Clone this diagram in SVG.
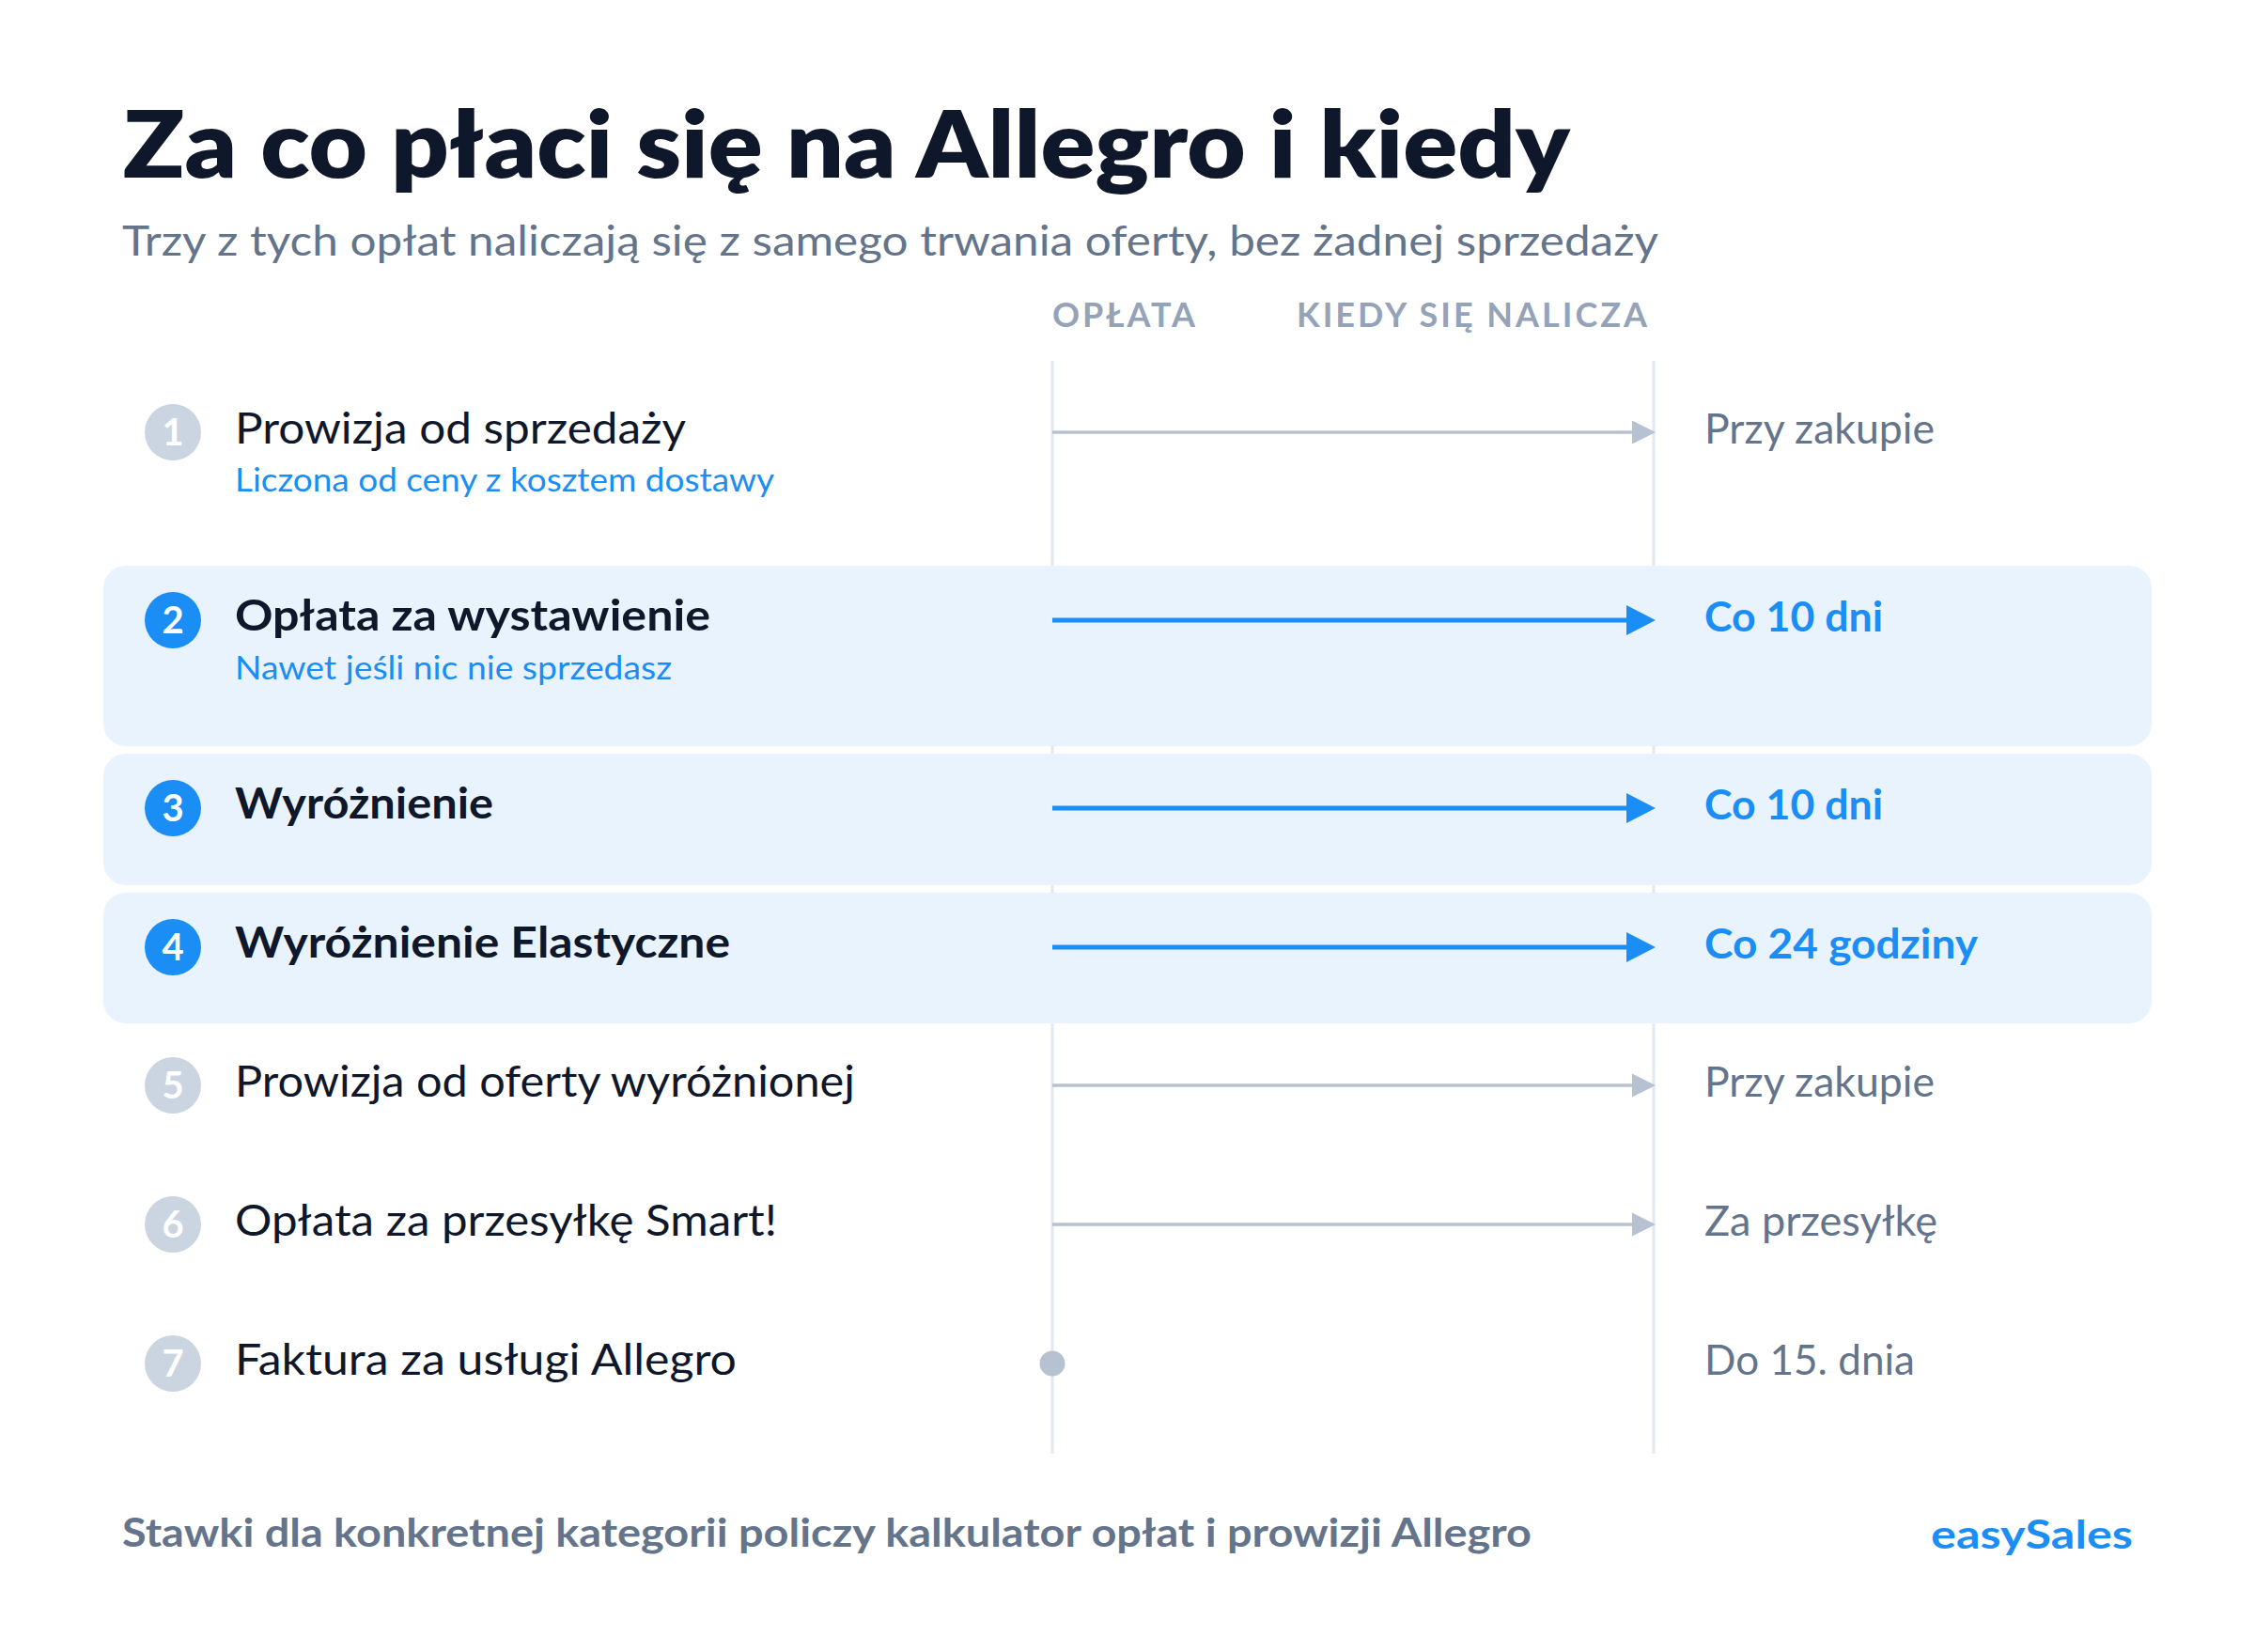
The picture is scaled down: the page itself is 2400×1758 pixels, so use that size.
<svg xmlns="http://www.w3.org/2000/svg" width="2400" height="1758" viewBox="0 0 2400 1758">
<style>
  text { font-family: Lato, "Noto Sans", "Liberation Sans", sans-serif; }
  .title { font-size: 98px; font-weight: 800; fill: #0f172a; }
  .subtitle { font-size: 45px; fill: #64748b; }
  .colhead { font-size: 36px; font-weight: 700; fill: #94a3b8; letter-spacing: 3px; }
  .label { font-size: 46px; fill: #0f172a; }
  .label.strong { font-weight: 700; }
  .sub { font-size: 35px; fill: #1b8ef5; }
  .when { font-size: 44px; fill: #64748b; }
  .when.strong { font-weight: 700; fill: #1b8ef5; }
  .num { font-size: 40px; font-weight: 700; fill: #ffffff; text-anchor: middle; }
  .badge-gray { fill: #cbd5e1; }
  .badge-blue { fill: #1b8ef5; }
  .band { fill: #e9f3fd; }
  .vline { stroke: #e2e8f0; stroke-width: 3; }
  .arrow-gray { stroke: #b6c2d2; stroke-width: 3.5; fill: none; marker-end: url(#headGray); }
  .arrow-blue { stroke: #1b8ef5; stroke-width: 5; fill: none; marker-end: url(#headBlue); }
  .footer { font-size: 42px; font-weight: 700; fill: #64748b; }
  .brand { font-size: 42px; font-weight: 700; fill: #1b8ef5; }
</style>
<defs>
  <marker id="headGray" markerUnits="userSpaceOnUse" markerWidth="26" markerHeight="26" refX="0" refY="13" orient="auto">
    <path d="M0,0.5 L25,13 L0,25.5 Z" fill="#b6c2d2"/>
  </marker>
  <marker id="headBlue" markerUnits="userSpaceOnUse" markerWidth="32" markerHeight="32" refX="0" refY="16" orient="auto">
    <path d="M0,0 L31,16 L0,32 Z" fill="#1b8ef5"/>
  </marker>
</defs>
<rect width="2400" height="1758" fill="#ffffff"/>

<g id="header">
  <text class="title" x="131" y="189" textLength="1540" lengthAdjust="spacingAndGlyphs">Za co płaci się na Allegro i kiedy</text>
  <text class="subtitle" x="130" y="272" textLength="1635" lengthAdjust="spacingAndGlyphs">Trzy z tych opłat naliczają się z samego trwania oferty, bez żadnej sprzedaży</text>
  <text class="colhead" x="1120" y="348">OPŁATA</text>
  <text class="colhead" x="1380" y="348">KIEDY SIĘ NALICZA</text>
</g>

<g id="axes">
  <line class="vline" x1="1120" y1="384" x2="1120" y2="1547"/>
  <line class="vline" x1="1760" y1="384" x2="1760" y2="1547"/>
</g>

<g id="bands">
  <rect class="band" x="110" y="602" width="2180" height="192" rx="24"/>
  <rect class="band" x="110" y="802" width="2180" height="140" rx="24"/>
  <rect class="band" x="110" y="950" width="2180" height="139" rx="24"/>
</g>

<g id="connectors">
  <line class="arrow-gray" x1="1120" y1="460" x2="1737" y2="460"/>
  <line class="arrow-blue" x1="1120" y1="660" x2="1731" y2="660"/>
  <line class="arrow-blue" x1="1120" y1="860" x2="1731" y2="860"/>
  <line class="arrow-blue" x1="1120" y1="1008" x2="1731" y2="1008"/>
  <line class="arrow-gray" x1="1120" y1="1155" x2="1737" y2="1155"/>
  <line class="arrow-gray" x1="1120" y1="1303" x2="1737" y2="1303"/>
  <circle cx="1120" cy="1451" r="13.5" fill="#b6c2d2"/>
</g>

<g id="row1">
  <circle class="badge-gray" cx="184" cy="460" r="30"/>
  <text class="num" x="184" y="474">1</text>
  <text class="label" x="250" y="472" textLength="480" lengthAdjust="spacingAndGlyphs">Prowizja od sprzedaży</text>
  <text class="sub" x="250" y="523" textLength="574" lengthAdjust="spacingAndGlyphs">Liczona od ceny z kosztem dostawy</text>
  <text class="when" x="1814" y="472" textLength="245" lengthAdjust="spacingAndGlyphs">Przy zakupie</text>
</g>
<g id="row2">
  <circle class="badge-blue" cx="184" cy="660" r="30"/>
  <text class="num" x="184" y="674">2</text>
  <text class="label strong" x="250" y="671" textLength="506" lengthAdjust="spacingAndGlyphs">Opłata za wystawienie</text>
  <text class="sub" x="250" y="723" textLength="465" lengthAdjust="spacingAndGlyphs">Nawet jeśli nic nie sprzedasz</text>
  <text class="when strong" x="1814" y="672" textLength="190" lengthAdjust="spacingAndGlyphs">Co 10 dni</text>
</g>
<g id="row3">
  <circle class="badge-blue" cx="184" cy="860" r="30"/>
  <text class="num" x="184" y="874">3</text>
  <text class="label strong" x="250" y="871" textLength="275" lengthAdjust="spacingAndGlyphs">Wyróżnienie</text>
  <text class="when strong" x="1814" y="872" textLength="190" lengthAdjust="spacingAndGlyphs">Co 10 dni</text>
</g>
<g id="row4">
  <circle class="badge-blue" cx="184" cy="1008" r="30"/>
  <text class="num" x="184" y="1022">4</text>
  <text class="label strong" x="250" y="1019" textLength="527" lengthAdjust="spacingAndGlyphs">Wyróżnienie Elastyczne</text>
  <text class="when strong" x="1814" y="1020" textLength="291" lengthAdjust="spacingAndGlyphs">Co 24 godziny</text>
</g>
<g id="row5">
  <circle class="badge-gray" cx="184" cy="1155" r="30"/>
  <text class="num" x="184" y="1169">5</text>
  <text class="label" x="250" y="1167" textLength="660" lengthAdjust="spacingAndGlyphs">Prowizja od oferty wyróżnionej</text>
  <text class="when" x="1814" y="1167" textLength="245" lengthAdjust="spacingAndGlyphs">Przy zakupie</text>
</g>
<g id="row6">
  <circle class="badge-gray" cx="184" cy="1303" r="30"/>
  <text class="num" x="184" y="1317">6</text>
  <text class="label" x="250" y="1315" textLength="577" lengthAdjust="spacingAndGlyphs">Opłata za przesyłkę Smart!</text>
  <text class="when" x="1814" y="1315" textLength="248" lengthAdjust="spacingAndGlyphs">Za przesyłkę</text>
</g>
<g id="row7">
  <circle class="badge-gray" cx="184" cy="1451" r="30"/>
  <text class="num" x="184" y="1465">7</text>
  <text class="label" x="250" y="1463" textLength="534" lengthAdjust="spacingAndGlyphs">Faktura za usługi Allegro</text>
  <text class="when" x="1814" y="1463" textLength="224" lengthAdjust="spacingAndGlyphs">Do 15. dnia</text>
</g>

<g id="footer">
  <text class="footer" x="130" y="1646" textLength="1500" lengthAdjust="spacingAndGlyphs">Stawki dla konkretnej kategorii policzy kalkulator opłat i prowizji Allegro</text>
  <text class="brand" x="2055" y="1648" textLength="215" lengthAdjust="spacingAndGlyphs">easySales</text>
</g>
</svg>
